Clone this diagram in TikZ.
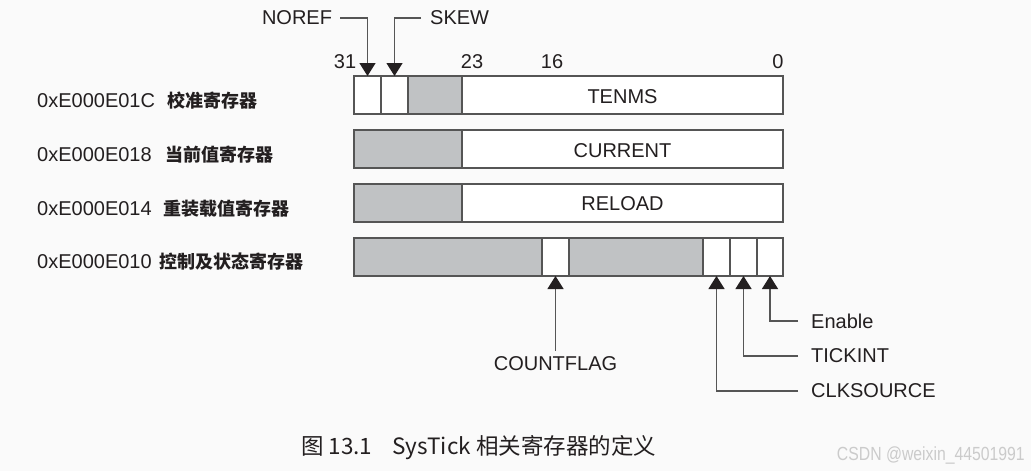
\documentclass[tikz,border=0pt]{standalone}
\usepackage{fontspec}
\setmainfont{Liberation Sans}
\newfontfamily\cjk{Noto Sans CJK SC}
\usetikzlibrary{arrows.meta}
\definecolor{bg}{HTML}{FAFAFA}
\definecolor{ink}{HTML}{231F20}
\definecolor{shade}{HTML}{C0C2C4}
\definecolor{edge}{HTML}{555555}
\definecolor{wm}{HTML}{CBCBCB}
\tikzset{
  fld/.style={draw=edge, line width=1.4pt, fill=white, inner sep=0pt, outer sep=0pt, minimum height=38pt, text=ink, font=\fontsize{20}{24}\selectfont},
  rsv/.style={fld, fill=shade},
  lbl/.style={inner sep=0pt, text=ink, font=\fontsize{20}{24}\selectfont},
  cn/.style={inner sep=0pt, text=ink, font=\cjk\bfseries\fontsize{18}{22}\selectfont},
  conn/.style={draw=edge, line width=1.3pt, -{Triangle[width=16pt,length=13pt,fill=ink,color=ink]}},
}
\begin{document}
\begin{tikzpicture}[x=1pt,y=-1pt]
\path[fill=bg] (0,0) rectangle (1031,471);
\useasboundingbox (0,0) rectangle (1031,471);

% row 1
\node[fld, minimum width=27pt] (r1a) at (367.5,95) {};
\node[fld, minimum width=27pt] (r1b) at (394.5,95) {};
\node[rsv, minimum width=54pt] (r1c) at (435,95) {};
\node[fld, minimum width=321pt] (r1d) at (622.5,95) {};
\node[lbl] (t1) at (622.5,97) {TENMS};
% row 2
\node[rsv, minimum width=108pt] (r2a) at (408,149) {};
\node[fld, minimum width=321pt] (r2b) at (622.5,149) {};
\node[lbl] (t2) at (622.5,150.5) {CURRENT};
% row 3
\node[rsv, minimum width=108pt] (r3a) at (408,203) {};
\node[fld, minimum width=321pt] (r3b) at (622.5,203) {};
\node[lbl] (t3) at (622.5,204) {RELOAD};
% row 4
\node[rsv, minimum width=188pt] (r4a) at (448,257) {};
\node[fld, minimum width=27pt] (r4b) at (555.5,257) {};
\node[rsv, minimum width=134pt] (r4c) at (636,257) {};
\node[fld, minimum width=27pt] (r4d) at (716.5,257) {};
\node[fld, minimum width=27pt] (r4e) at (743.5,257) {};
\node[fld, minimum width=26pt] (r4f) at (770,257) {};

% bit numbers
\node[lbl] (b31) at (345,62) {31};
\node[lbl] (b23) at (472,62) {23};
\node[lbl] (b16) at (552,62) {16};
\node[lbl] (b0) at (778,62) {0};

% register labels
\node[lbl, anchor=west] (a1) at (37,101) {0xE000E01C};
\node[cn, anchor=west] (c1) at (167,101) {校准寄存器};
\node[lbl, anchor=west] (a2) at (37,155) {0xE000E018};
\node[cn, anchor=west] (c2) at (165,155) {当前值寄存器};
\node[lbl, anchor=west] (a3) at (37,209) {0xE000E014};
\node[cn, anchor=west] (c3) at (163,209) {重装载值寄存器};
\node[lbl, anchor=west] (a4) at (37,262) {0xE000E010};
\node[cn, anchor=west] (c4) at (159,262) {控制及状态寄存器};

% top field labels
\node[lbl] (noref) at (297,18) {NOREF};
\node[lbl, anchor=west] (skew) at (430,18) {SKEW};
\draw[conn] ([xshift=8pt]noref.east) -| (r1a.north);
\draw[conn] ([xshift=-9pt]skew.west) -| (r1b.north);

% bottom field labels
\node[lbl] (cflag) at (555.5,364) {COUNTFLAG};
\draw[conn] ([yshift=6pt]cflag.north) -- (r4b.south);
\node[lbl, anchor=west] (en) at (811,321) {Enable};
\node[lbl, anchor=west] (ti) at (811,356) {TICKINT};
\node[lbl, anchor=west] (cs) at (811,391) {CLKSOURCE};
\draw[conn] ([xshift=-13pt]en.west) -| (r4f.south);
\draw[conn] ([xshift=-13pt]ti.west) -| (r4e.south);
\draw[conn] ([xshift=-13pt]cs.west) -| (r4d.south);

% caption
\node[inner sep=0pt, text=ink, anchor=base west, font=\cjk\fontsize{22.5}{26}\selectfont] (cap) at (301,454) {图 13.1\hspace{20pt}SysTick 相关寄存器的定义};
\node[inner sep=0pt, text=wm, anchor=base east, font=\fontsize{19}{22}\selectfont] (wmk) at (1025,460) {\scalebox{0.83}[1]{CSDN @weixin\_44501991}};
\end{tikzpicture}
\end{document}
